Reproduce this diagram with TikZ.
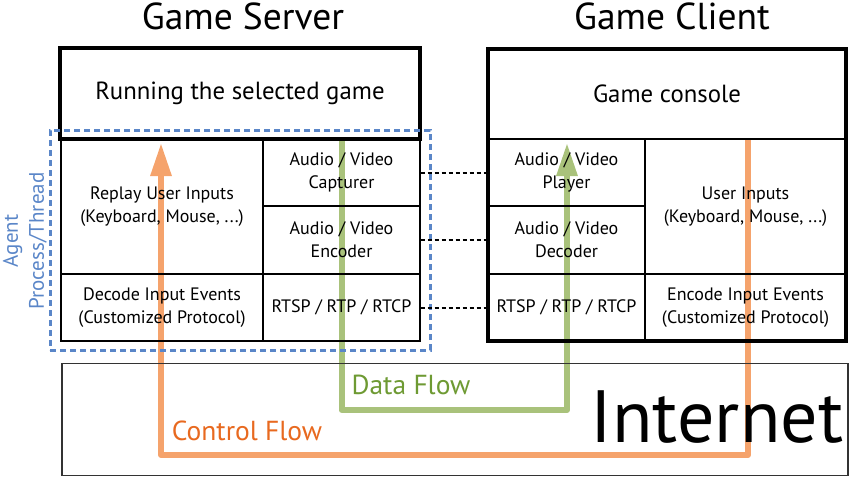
\documentclass[tikz,border=0pt]{standalone}
\usepackage{fontspec}
\setmainfont{PT Sans}
\usetikzlibrary{arrows.meta,backgrounds}
\definecolor{orangeL}{HTML}{F5A36C}
\definecolor{orangeT}{HTML}{E8691F}
\definecolor{greenL}{HTML}{A9C27B}
\definecolor{greenT}{HTML}{6E9A33}
\definecolor{blueD}{HTML}{5A86C8}
\tikzset{
  cell/.style={draw=black, line width=1.2pt, inner sep=0pt, align=center, font=\fontsize{18}{23}\selectfont},
  topbox/.style={draw=black, line width=3.5pt, inner sep=0pt, align=center, font=\fontsize{24.8}{26}\selectfont},
  title/.style={font=\fontsize{37.5}{38}\selectfont},
  link/.style={draw=black, line width=1.8pt, dash pattern=on 4pt off 3pt},
  flow/.style={line width=6pt, line join=round},
  flowlabel/.style={font=\fontsize{27.5}{28}\selectfont},
}
\begin{document}
\begin{tikzpicture}[x=1pt,y=-1pt]
\useasboundingbox (0,0) rectangle (850,477);
% titles
\node[title] (ts) at (243,16) {Game Server};
\node[title] (tc) at (672,16) {Game Client};
% server
\node[topbox, minimum width=360pt, minimum height=91pt] (run) at (240,93.5) {Running the selected game};
\node[cell, minimum width=202pt, minimum height=135pt] (replay) at (162,206.5) {Replay User Inputs\\(Keyboard, Mouse, ...)};
\node[cell, minimum width=157pt, minimum height=67pt] (capt) at (341.5,172.5) {Audio / Video\\Capturer};
\node[cell, minimum width=157pt, minimum height=68pt] (enc) at (341.5,240) {Audio / Video\\Encoder};
\node[cell, minimum width=202pt, minimum height=67pt] (dec) at (162,307.5) {Decode Input Events\\(Customized Protocol)};
\node[cell, minimum width=157pt, minimum height=67pt] (rtps) at (341.5,307.5) {RTSP / RTP / RTCP};
% client
\node[cell, minimum width=157pt, minimum height=67pt] (play) at (566.5,172.5) {Audio / Video\\Player};
\node[cell, minimum width=157pt, minimum height=68pt] (vdec) at (566.5,240) {Audio / Video\\Decoder};
\node[cell, minimum width=157pt, minimum height=67pt] (rtpc) at (566.5,307.5) {RTSP / RTP / RTCP};
\node[cell, minimum width=201pt, minimum height=135pt] (uin) at (745.5,206.5) {User Inputs\\(Keyboard, Mouse, ...)};
\node[cell, minimum width=201pt, minimum height=67pt] (encin) at (745.5,307.5) {Encode Input Events\\(Customized Protocol)};
\node[cell, minimum width=358pt, minimum height=90pt, font=\fontsize{24.8}{26}\selectfont] (cons) at (667,94) {Game console};
\node[draw=black, line width=3.5pt, inner sep=0pt, minimum width=358pt, minimum height=292pt] (client) at (667,195) {};
% agent box
\node[draw=blueD, line width=3pt, dash pattern=on 6pt off 4pt, inner sep=0pt, minimum width=380pt, minimum height=220pt] (agent) at (240,240) {};
\node[text=blueD, rotate=90, align=center, font=\fontsize{21}{26}\selectfont] (agl) at (25,241) {Agent\\Process/Thread};
% internet
\node[draw=black!80, line width=1.3pt, inner sep=0pt, minimum width=786pt, minimum height=112pt] (net) at (455,419.5) {};
\node[font=\fontsize{74}{74}\selectfont, anchor=base] (netl) at (717,442) {Internet};
% dashed links
\draw[link] ([yshift=-0.5pt]capt.east) -- ([yshift=-0.5pt]play.west);
\draw[link] (enc.east) -- (vdec.west);
\draw[link] ([yshift=-0.5pt]rtps.east) -- ([yshift=-0.5pt]rtpc.west);
% flows
\coordinate (c1) at (748,139);
\coordinate (c2) at (748,455);
\coordinate (c3) at (161,455);
\coordinate (c4) at (161,143);
\coordinate (g1) at (341.5,139);
\coordinate (g2) at (341.5,410);
\coordinate (g3) at (567,410);
\coordinate (g4) at (567,143);
\begin{scope}[on background layer]
\draw[flow, draw=orangeL, -{Triangle[width=20pt,length=33pt]}] (c1) -- (c2) -- (c3) -- (c4);
\draw[flow, draw=greenL, -{Triangle[width=20pt,length=33pt]}] (g1) -- (g2) -- (g3) -- (g4);
\end{scope}
\node[text=greenT, flowlabel] (dfl) at (411,385) {Data Flow};
\node[text=orangeT, flowlabel] (cfl) at (247,431) {Control Flow};
\end{tikzpicture}
\end{document}
